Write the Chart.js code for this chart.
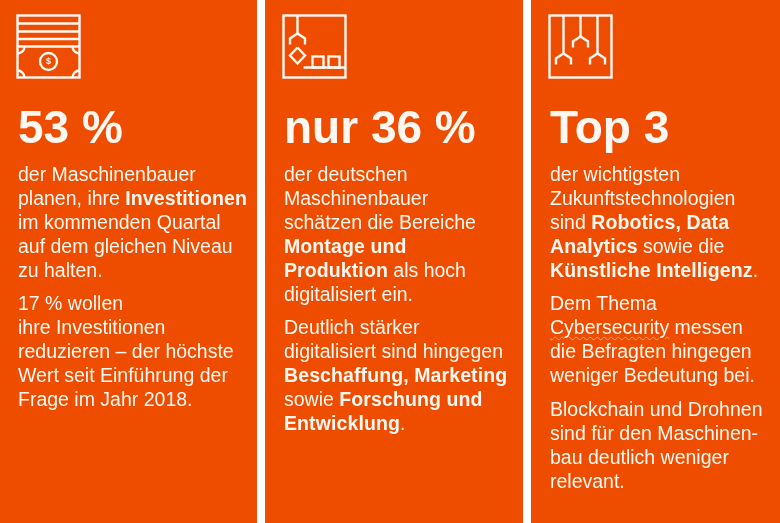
<!DOCTYPE html>
<html lang="de">
<head>
<meta charset="utf-8">
<title>Maschinenbau Kennzahlen</title>
<script src="https://cdn.jsdelivr.net/npm/chart.js@4"></script>
<style>
  html, body { margin: 0; padding: 0; background: #fff; overflow: hidden; }
  body { width: 780px; height: 523px; position: relative; font-family: "Liberation Sans", Arial, sans-serif; }
  #panels { position: absolute; left: -5px; top: 0; }
  .column { position: absolute; top: 0; color: #fff8f2; white-space: pre; }
  .headline { position: absolute; top: 101px; left: 0; font-size: 46px; line-height: 52px; font-weight: bold; }
  .body-text { position: absolute; top: 163px; left: 0; font-size: 19.5px; line-height: 23.95px; }
  .body-text p { margin: 0 0 9.6px 0; }
  .body-text b { letter-spacing: 0.1px; }
  u { text-decoration: underline wavy #f2a67c 1px; text-underline-offset: 2px; }
</style>
</head>
<body>
<canvas id="panels" width="798" height="523"></canvas>
<script>
// One full-height panel per headline
const categories = ['Investitionen', 'Digitalisierung', 'Zukunftstechnologien'];
const panelValues = [100, 100, 100];
const headlines = ['53 %', 'nur 36 %', 'Top 3'];

const textInvest = [
  ['der Maschinenbauer', 'planen, ihre <b>Investitionen</b>', 'im kommenden Quartal', 'auf dem gleichen Niveau', 'zu halten.'],
  ['17 % wollen', 'ihre Investitionen', 'reduzieren – der höchste', 'Wert seit Einführung der', 'Frage im Jahr 2018.']
];
const textDigital = [
  ['der deutschen', 'Maschinenbauer', 'schätzen die Bereiche', '<b>Montage und</b>', '<b>Produktion</b> als hoch', 'digitalisiert ein.'],
  ['Deutlich stärker', 'digitalisiert sind hingegen', '<b>Beschaffung, Marketing</b>', 'sowie <b>Forschung und</b>', '<b>Entwicklung</b>.']
];
const textTech = [
  ['der wichtigsten', 'Zukunftstechnologien', 'sind <b>Robotics, Data</b>', '<b>Analytics</b> sowie die', '<b>Künstliche Intelligenz</b>.'],
  ['Dem Thema', '<u>Cybersecurity</u> messen', 'die Befragten hingegen', 'weniger Bedeutung bei.'],
  ['Blockchain und Drohnen', 'sind für den Maschinen-', 'bau deutlich weniger', 'relevant.']
];
const columnTexts = [textInvest, textDigital, textTech];

const ORANGE = '#ee4d00';
const ICON_COLOR = '#fff8f2';
const TEXT_INSET = 19;

function line(ctx, points) {
  ctx.beginPath();
  points.forEach((p, i) => (i ? ctx.lineTo(p[0], p[1]) : ctx.moveTo(p[0], p[1])));
  ctx.stroke();
}

// Y shaped gripper, cx is the arm and y the joint
function gripper(ctx, cx, y) {
  line(ctx, [[cx - 7.5, y + 11], [cx - 7.5, y + 5], [cx, y], [cx + 7.5, y + 5], [cx + 7.5, y + 11]]);
}

function drawMoney(ctx) {
  ctx.strokeRect(0, 0, 62, 62);
  [8, 16, 23.5, 31].forEach(y => line(ctx, [[0, y], [62, y]]));
  [[0, 31, 0, Math.PI / 2], [62, 31, Math.PI / 2, Math.PI], [0, 62, -Math.PI / 2, 0], [62, 62, Math.PI, Math.PI * 1.5]].forEach(a => {
    ctx.beginPath();
    ctx.arc(a[0], a[1], 7, a[2], a[3]);
    ctx.stroke();
  });
  ctx.beginPath();
  ctx.arc(31, 46, 8.5, 0, Math.PI * 2);
  ctx.stroke();
  ctx.font = 'bold 9px "Liberation Sans"';
  ctx.textAlign = 'center';
  ctx.textBaseline = 'middle';
  ctx.fillText('$', 31, 46.5);
}

function drawAssembly(ctx) {
  ctx.strokeRect(0, 0, 62, 62);
  line(ctx, [[14, 0], [14, 18]]);
  gripper(ctx, 14, 18);
  line(ctx, [[14, 32], [21.5, 40], [14, 48], [6.5, 40], [14, 32]]);
  line(ctx, [[20, 52], [62, 52]]);
  ctx.strokeRect(29, 41, 11, 11);
  ctx.strokeRect(45, 41, 11, 11);
}

function drawRobots(ctx) {
  ctx.strokeRect(0, 0, 62, 62);
  line(ctx, [[14, 0], [14, 38]]);
  line(ctx, [[31, 0], [31, 21]]);
  line(ctx, [[48, 0], [48, 38]]);
  gripper(ctx, 14, 38);
  gripper(ctx, 31, 21);
  gripper(ctx, 48, 38);
}

const iconPainters = [drawMoney, drawAssembly, drawRobots];

const iconPlugin = {
  id: 'panelIcons',
  afterDatasetsDraw(chart) {
    const ctx = chart.ctx;
    chart.getDatasetMeta(0).data.forEach((bar, i) => {
      ctx.save();
      ctx.translate(Math.round(bar.x - bar.width / 2) + 18.5, 15.5);
      ctx.strokeStyle = ICON_COLOR;
      ctx.fillStyle = ICON_COLOR;
      ctx.lineWidth = 2.4;
      iconPainters[i](ctx);
      ctx.restore();
    });
  }
};

const chart = new Chart(document.getElementById('panels'), {
  type: 'bar',
  data: {
    labels: categories,
    datasets: [{
      data: panelValues,
      backgroundColor: ORANGE,
      borderWidth: 0,
      barPercentage: 1,
      categoryPercentage: 258 / 266
    }]
  },
  options: {
    responsive: false,
    animation: false,
    plugins: { legend: { display: false }, tooltip: { enabled: false } },
    scales: {
      x: { display: false },
      y: { display: false, min: 0, max: 100 }
    }
  },
  plugins: [iconPlugin]
});

// Text columns sit on the bars, canvas is shifted 5px to the left
chart.getDatasetMeta(0).data.forEach((bar, i) => {
  const column = document.createElement('div');
  column.className = 'column';
  column.style.left = (bar.x - bar.width / 2 - 5 + TEXT_INSET) + 'px';

  const headline = document.createElement('div');
  headline.className = 'headline';
  headline.textContent = headlines[i];
  column.appendChild(headline);

  const body = document.createElement('div');
  body.className = 'body-text';
  columnTexts[i].forEach(lines => {
    const p = document.createElement('p');
    p.innerHTML = lines.join('\n');
    body.appendChild(p);
  });
  column.appendChild(body);
  document.body.appendChild(column);
});
</script>
</body>
</html>
